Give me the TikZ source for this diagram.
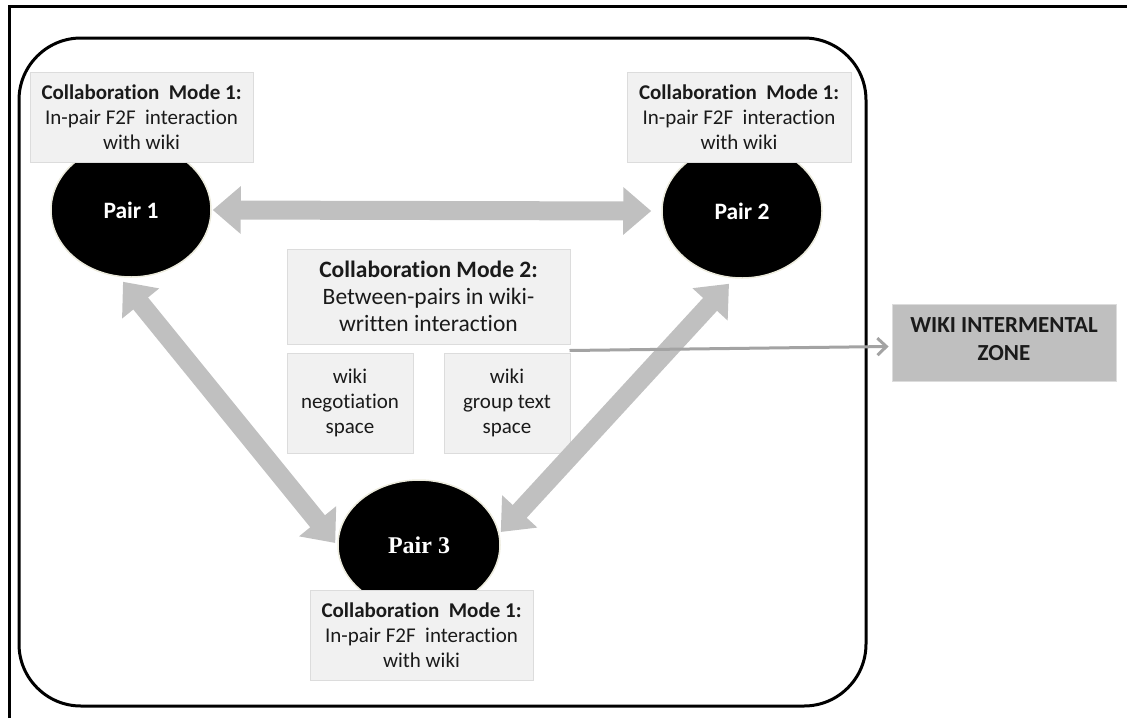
\documentclass[tikz,border=0pt]{standalone}
\usepackage{fontspec}
\setmainfont{Carlito}[Ligatures=NoCommon]
\newfontfamily\serifb{Liberation Serif}
\usetikzlibrary{arrows.meta,calc,shapes.geometric}
\definecolor{boxfill}{HTML}{F1F1F1}
\definecolor{boxedge}{HTML}{DCDCDC}
\definecolor{arrowgray}{HTML}{C0C0C0}
\definecolor{linegray}{HTML}{A3A3A3}
\definecolor{zonegray}{HTML}{BFBFBF}
\definecolor{rimcol}{HTML}{ECEBDD}
\definecolor{txt}{HTML}{1A1A1A}
\begin{document}
\begin{tikzpicture}[x=1pt,y=-1pt,
  modebox/.style={draw=boxedge, fill=boxfill, line width=1pt, align=center, text=txt,
    font=\fontsize{21}{25}\selectfont, inner sep=0pt, minimum width=223pt, minimum height=90pt},
  spacebox/.style={draw=boxedge, fill=boxfill, line width=1pt, align=center, text=txt,
    font=\fontsize{21}{25}\selectfont, inner sep=0pt, minimum width=126pt, minimum height=100pt},
  pair/.style={ellipse, fill=black, draw=rimcol, line width=1.5pt, inner sep=0pt,
    minimum width=160pt, minimum height=134pt, text=white, font=\fontsize{23.5}{25}\selectfont\bfseries},
  blockarrow/.style={draw=arrowgray, line width=19pt,
    {Triangle[length=28pt,width=46pt]}-{Triangle[length=28pt,width=46pt]}},
  thinarrow/.style={draw=linegray, line width=3pt, -{Straight Barb[length=9pt,width=17pt,line width=3pt]}},
]
\useasboundingbox (0,0) rectangle (1127,718);
% outer sheet frame
\draw[line width=3pt] (9,718) -- (9,6) -- (1127,6);
% rounded frame
\node[draw=black, line width=3pt, rounded corners=62pt, minimum width=847pt, minimum height=668pt, inner sep=0pt]
  (frame) at (442.5,372) {};
% pairs
\node[pair] (p1) at (131,210) {Pair 1};
\node[pair] (p2) at (742,211) {Pair 2};
\node[pair, minimum width=162pt, minimum height=130pt, font=\fontsize{24}{26}\selectfont\serifb\bfseries] (p3) at (419,545) {Pair 3};
% mode 1 boxes
\node[modebox] (m1a) at (141.5,117) {\textbf{Collaboration\ \ Mode 1:}\\In-pair F2F\ \ interaction\\with wiki};
\node[modebox, minimum width=224pt] (m1b) at (739,117) {\textbf{Collaboration\ \ Mode 1:}\\In-pair F2F\ \ interaction\\with wiki};
\node[modebox] (m1c) at (421.5,635) {\textbf{Collaboration\ \ Mode 1:}\\In-pair F2F\ \ interaction\\with wiki};
% mode 2
\node[modebox, minimum width=283pt, minimum height=95pt, font=\fontsize{23.5}{27}\selectfont] (m2) at (428.5,296.5)
  {\textbf{Collaboration Mode 2:}\\Between-pairs in wiki-\\written interaction};
\node[spacebox] (neg) at (350,403) {wiki\\negotiation\\space};
\node[spacebox] (grp) at (507,403) {wiki\\group text\\space};
% zone
\node[fill=zonegray, draw=boxedge, line width=0.8pt, minimum width=224pt, minimum height=77pt, inner sep=0pt,
  align=center, text=txt, font=\fontsize{23}{28}\selectfont\bfseries] (zone) at (1004,342.5) {WIKI INTERMENTAL\\ZONE\rule[-6pt]{0pt}{0pt}};
% block arrows
\draw[blockarrow] ($(p1.east)+(1,0)$) -- ($(p2.west)+(-10,0)$);
\draw[blockarrow] ($(p1.south)+(-8,4)$) -- ($(p3.west)+(-2,-2)$);
\draw[blockarrow] ($(p2.south)+(-13,5)$) -- ($(p3.east)+(0,-13)$);
% thin arrow
\draw[thinarrow] ($(m2.south east)+(-1,6)$) -- ($(zone.west)+(-3,4)$);
\end{tikzpicture}
\end{document}
